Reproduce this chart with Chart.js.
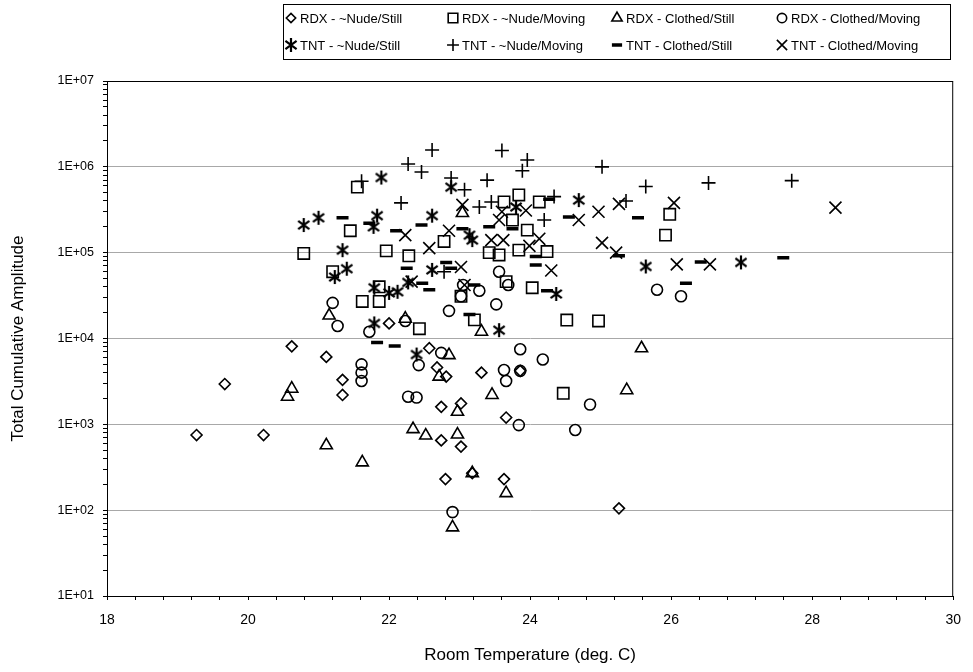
<!DOCTYPE html>
<html>
<head>
<meta charset="utf-8">
<script src="https://cdn.jsdelivr.net/npm/chart.js@4.4.1/dist/chart.umd.min.js"></script>
<style>
  html, body { margin: 0; padding: 0; background: #fff; }
</style>
</head>
<body>
<canvas id="myChart" width="973" height="672"></canvas>
<script>
// Datos (temperatura ambiente vs amplitud acumulada)
const rdxNudeStillX = [19.27, 19.67, 20.22, 20.62, 21.11, 21.34, 21.34, 22.0, 22.57, 22.68, 22.81, 23.31, 22.74, 23.02, 23.66, 22.74, 23.02, 22.8, 23.18, 23.63, 23.86, 25.26];
const rdxNudeStillY = [750, 2950, 750, 8100, 6100, 3300, 2200, 15000, 7700, 4600, 3600, 4000, 1600, 1750, 1200, 650, 550, 230, 270, 230, 4200, 105];

const rdxNudeMovingX = [20.79, 21.2, 21.55, 21.45, 21.96, 22.28, 21.62, 21.86, 21.86, 22.43, 22.78, 23.63, 23.42, 23.56, 23.02, 23.21, 23.84, 23.75, 24.13, 23.96, 23.84, 24.24, 23.66, 24.03, 24.52, 24.97, 24.47, 25.98, 25.92];
const rdxNudeMovingY = [98000, 60000, 580000, 180000, 105000, 92000, 27000, 27000, 40000, 13000, 135000, 390000, 100000, 94000, 31000, 16500, 470000, 240000, 390000, 183000, 107000, 103000, 46000, 39000, 16400, 16000, 2300, 280000, 160000];

const rdxClothedStillX = [20.56, 20.62, 21.15, 21.11, 21.62, 22.23, 22.34, 22.52, 22.97, 22.85, 22.71, 22.97, 23.46, 23.18, 23.66, 22.9, 23.04, 23.31, 25.58, 25.37];
const rdxClothedStillY = [2100, 2600, 18500, 570, 360, 17000, 880, 740, 760, 6400, 3600, 1400, 2200, 270, 158, 63, 290000, 12000, 7700, 2500];

const rdxClothedMovingX = [21.2, 21.27, 21.72, 21.61, 21.61, 21.61, 22.27, 22.39, 22.42, 22.74, 22.23, 22.85, 23.05, 23.02, 23.28, 23.52, 23.56, 23.69, 23.63, 23.66, 23.86, 24.18, 23.86, 23.84, 24.64, 24.85, 22.9, 25.8, 26.14];
const rdxClothedMovingY = [26000, 14000, 12000, 5000, 4000, 3200, 2100, 2050, 4900, 6800, 16000, 21000, 42000, 31000, 36000, 25000, 60000, 42000, 4300, 3200, 7500, 5700, 4200, 980, 860, 1700, 95, 37000, 31000];

const tntNudeStillX = [20.79, 21.0, 21.34, 21.40, 21.23, 21.89, 21.83, 21.78, 22.27, 21.79, 22.0, 22.12, 21.79, 22.39, 22.88, 22.61, 23.14, 23.18, 22.61, 23.56, 23.80, 24.37, 24.69, 25.64, 26.99];
const tntNudeStillY = [210000, 255000, 107000, 65000, 52000, 750000, 270000, 200000, 45000, 39000, 34000, 35000, 15000, 6500, 580000, 270000, 160000, 140000, 63000, 12500, 340000, 33000, 410000, 69000, 77000];

const tntNudeMovingX = [22.27, 21.61, 22.17, 22.61, 22.46, 22.88, 23.07, 23.39, 23.28, 23.45, 22.78, 23.60, 23.96, 23.89, 24.34, 24.20, 25.02, 25.64, 25.36, 26.53, 27.71];
const tntNudeMovingY = [1080000, 680000, 380000, 1570000, 870000, 740000, 540000, 700000, 340000, 390000, 60000, 1550000, 1200000, 900000, 450000, 240000, 1000000, 590000, 400000, 650000, 690000];

const tntClothedStillX = [21.34, 21.72, 22.10, 22.25, 21.83, 22.08, 22.46, 23.04, 22.81, 22.88, 22.47, 22.57, 23.21, 23.14, 23.42, 23.75, 24.27, 24.55, 24.08, 24.08, 24.24, 25.53, 25.26, 26.42, 26.21, 27.59];
const tntClothedStillY = [255000, 220000, 180000, 66000, 9000, 8200, 210000, 190000, 77000, 66000, 44000, 37000, 42000, 19000, 200000, 190000, 420000, 260000, 90000, 72000, 36000, 255000, 92000, 78000, 44000, 87000];

const tntClothedMovingX = [22.23, 22.85, 22.57, 23.04, 23.02, 22.32, 23.07, 23.56, 23.45, 23.62, 23.60, 23.94, 24.69, 24.97, 24.13, 23.99, 24.30, 25.02, 25.26, 25.22, 26.04, 26.08, 26.55, 28.33];
const tntClothedMovingY = [160000, 180000, 113000, 360000, 68000, 46000, 42000, 240000, 140000, 140000, 300000, 310000, 240000, 300000, 145000, 120000, 62000, 130000, 370000, 100000, 380000, 73000, 73000, 335000];

const seriesLabels = ['RDX - ~Nude/Still', 'RDX - ~Nude/Moving', 'RDX - Clothed/Still', 'RDX - Clothed/Moving',
                      'TNT - ~Nude/Still', 'TNT - ~Nude/Moving', 'TNT - Clothed/Still', 'TNT - Clothed/Moving'];

const xTickLabels = [18, 20, 22, 24, 26, 28, 30];
const yTickValues = [1e1, 1e2, 1e3, 1e4, 1e5, 1e6, 1e7];
const yTickLabels = ['1E+01', '1E+02', '1E+03', '1E+04', '1E+05', '1E+06', '1E+07'];

const FONT = "'Liberation Sans', Arial, sans-serif";

// asterisco de 6 brazos (no existe en Chart.js)
function makeAsterisk(size, lw) {
    const c = document.createElement('canvas');
    c.width = size; c.height = size;
    const g = c.getContext('2d');
    g.strokeStyle = '#000';
    g.lineWidth = lw;
    const m = size / 2, r = size / 2 - 1, d = r * 0.8;
    g.beginPath();
    g.moveTo(m, m - r); g.lineTo(m, m + r);
    g.moveTo(m - d, m - d * 0.75); g.lineTo(m + d, m + d * 0.75);
    g.moveTo(m - d, m + d * 0.75); g.lineTo(m + d, m - d * 0.75);
    g.stroke();
    return c;
}
const asterisk = makeAsterisk(16, 2.2);

function pts(xs, ys) {
    return xs.map((x, i) => ({ x: x, y: ys[i] }));
}

const styles = [
    { pointStyle: 'rectRot', radius: 5.5, borderWidth: 1.6 },
    { pointStyle: 'rect', radius: 8, borderWidth: 1.6 },
    { pointStyle: 'triangle', radius: 7, borderWidth: 1.6 },
    { pointStyle: 'circle', radius: 5.5, borderWidth: 1.6 },
    { pointStyle: asterisk, radius: 7, borderWidth: 1.6 },
    { pointStyle: 'cross', radius: 7, borderWidth: 1.6 },
    { pointStyle: 'line', radius: 6, borderWidth: 3.5 },
    { pointStyle: 'crossRot', radius: 8.5, borderWidth: 1.6 }
];

const allData = [
    pts(rdxNudeStillX, rdxNudeStillY),
    pts(rdxNudeMovingX, rdxNudeMovingY),
    pts(rdxClothedStillX, rdxClothedStillY),
    pts(rdxClothedMovingX, rdxClothedMovingY),
    pts(tntNudeStillX, tntNudeStillY),
    pts(tntNudeMovingX, tntNudeMovingY),
    pts(tntClothedStillX, tntClothedStillY),
    pts(tntClothedMovingX, tntClothedMovingY)
];

const datasets = allData.map((d, i) => ({
    label: seriesLabels[i],
    data: d,
    showLine: false,
    pointStyle: styles[i].pointStyle,
    pointRadius: styles[i].radius,
    pointBorderWidth: styles[i].borderWidth,
    pointBorderColor: '#000',
    pointBackgroundColor: 'rgba(0,0,0,0)'
}));

// ticks menores: eje x cada 0.4, eje y 2..9 por década
const xMinor = [];
for (let k = 0; k <= 30; k++) xMinor.push(18 + k * 0.4);
const yMinor = [];
for (let p = 1; p < 7; p++) for (let m = 1; m < 10; m++) yMinor.push(m * Math.pow(10, p));
yMinor.push(1e7);

function isDecade(v) {
    const l = Math.log10(v);
    return Math.abs(l - Math.round(l)) < 1e-9;
}

// leyenda en recuadro, 2 filas x 4 columnas
const boxLegend = {
    id: 'boxLegend',
    afterDraw(chart) {
        const ctx = chart.ctx;
        const colX = [291, 453, 617, 782];
        const rowY = [18, 45];
        ctx.save();
        ctx.strokeStyle = '#000';
        ctx.lineWidth = 1;
        ctx.strokeRect(283.5, 4.5, 667, 55);
        ctx.font = '13px ' + FONT;
        ctx.textBaseline = 'middle';
        chart.data.datasets.forEach((ds, i) => {
            const x = colX[i % 4], y = rowY[Math.floor(i / 4)];
            ctx.strokeStyle = '#000';
            ctx.fillStyle = 'rgba(0,0,0,0)';
            ctx.lineWidth = styles[i].borderWidth;
            Chart.helpers.drawPoint(ctx, {
                pointStyle: styles[i].pointStyle,
                radius: styles[i].radius * 0.85,
                rotation: 0,
                borderWidth: styles[i].borderWidth
            }, x, y);
            ctx.fillStyle = '#000';
            ctx.fillText(ds.label, x + 9, y + 1);
        });
        // marco del área de trazado
        const a = chart.chartArea;
        ctx.lineWidth = 1;
        ctx.strokeStyle = '#000';
        ctx.strokeRect(a.left + 0.5, a.top + 0.5, a.right - a.left - 1, a.bottom - a.top);
        ctx.restore();
    }
};

new Chart(document.getElementById('myChart').getContext('2d'), {
    type: 'scatter',
    data: { datasets: datasets },
    options: {
        responsive: false,
        animation: false,
        layout: { padding: { top: 81, right: 18, bottom: 0, left: 0 } },
        plugins: {
            legend: { display: false },
            tooltip: { enabled: false }
        },
        scales: {
            x: {
                type: 'linear',
                min: 18,
                max: 30,
                afterBuildTicks: s => { s.ticks = xMinor.map(v => ({ value: v })); },
                afterFit: s => { s.height = 76; },
                ticks: {
                    autoSkip: false,
                    maxRotation: 0,
                    padding: 12,
                    color: '#000',
                    font: { family: FONT, size: 14 },
                    callback: v => {
                        const lab = xTickLabels.find(t => Math.abs(t - v) < 1e-6);
                        return lab === undefined ? '' : String(lab);
                    }
                },
                grid: { drawOnChartArea: false, tickLength: 4, color: '#000' },
                border: { color: '#000', width: 1 },
                title: {
                    display: true,
                    text: 'Room Temperature (deg. C)',
                    color: '#000',
                    font: { family: FONT, size: 17 },
                    padding: { top: 0, bottom: 6 }
                }
            },
            y: {
                type: 'logarithmic',
                min: 10,
                max: 1e7,
                afterBuildTicks: s => { s.ticks = yMinor.map(v => ({ value: v })); },
                afterFit: s => { s.width = 107; },
                ticks: {
                    autoSkip: false,
                    padding: 9,
                    color: '#000',
                    font: { family: FONT, size: 12.5 },
                    callback: v => {
                        const idx = yTickValues.findIndex(t => Math.abs(t - v) / t < 1e-6);
                        return idx < 0 ? '' : yTickLabels[idx];
                    }
                },
                grid: {
                    color: c => (c.tick && isDecade(c.tick.value)) ? '#a8a8a8' : 'rgba(0,0,0,0)',
                    tickColor: '#000',
                    tickLength: 4,
                    lineWidth: 1
                },
                border: { color: '#000', width: 1 },
                title: {
                    display: true,
                    text: 'Total Cumulative Amplitude',
                    color: '#000',
                    font: { family: FONT, size: 17 },
                    padding: { top: 8, bottom: 4 }
                }
            }
        }
    },
    plugins: [boxLegend]
});
</script>
</body>
</html>
